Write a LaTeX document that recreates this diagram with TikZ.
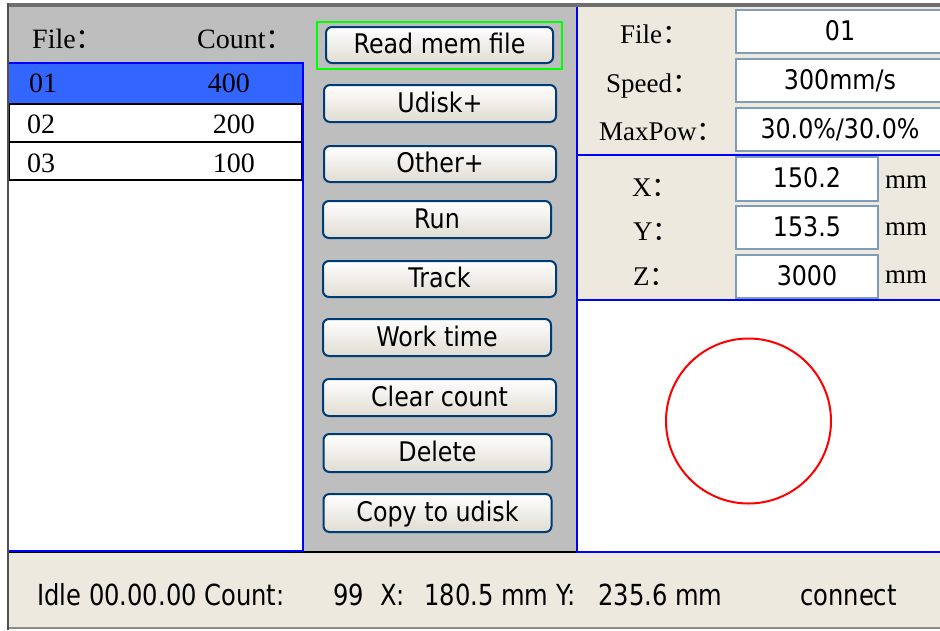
\documentclass[tikz,border=0pt]{standalone}
\usepackage{fontspec}
\setmainfont{Liberation Serif}
\newfontfamily\uifont[FakeStretch=0.88]{DejaVu Sans}
\newfontfamily\stfont[FakeStretch=0.835]{DejaVu Sans}
\newfontfamily\cjk{Noto Sans CJK SC}
\newcommand\fwc{{\cjk ：}}
\definecolor{panelgray}{HTML}{BEBEBE}
\definecolor{beige}{HTML}{EDE9DF}
\definecolor{selblue}{HTML}{3366FF}
\definecolor{btnborder}{HTML}{003C74}
\definecolor{btnbottom}{HTML}{E0DCD2}
\definecolor{boxborder}{HTML}{7F9DB9}
\definecolor{framegray}{HTML}{6E6E6E}
\definecolor{framedark}{HTML}{505050}
\definecolor{scrblue}{HTML}{0000FF}
\begin{document}
\begin{tikzpicture}[x=1pt,y=-1pt,
  btn/.style={draw=btnborder, line width=2pt, rounded corners=6pt,
    top color=white, bottom color=btnbottom, inner sep=0pt,
    text height=20pt, text depth=3pt,
    font={\uifont\fontsize{27}{30}\selectfont}},
  vbox/.style={draw=boxborder, line width=2pt, fill=white, inner sep=0pt,
    text height=20pt, text depth=3pt,
    font={\uifont\fontsize{27}{30}\selectfont}},
  serifL/.style={anchor=base west, inner sep=0pt, font={\fontsize{28}{32}\selectfont}},
  serifR/.style={anchor=base east, inner sep=0pt, font={\fontsize{28}{32}\selectfont}},
  lbl/.style={anchor=base west, inner sep=0pt, font={\fontsize{27}{31}\selectfont}},
  stat/.style={anchor=base west, inner sep=0pt, font={\stfont\fontsize{29}{32}\selectfont}},
  blueline/.style={draw=scrblue, line width=2.5pt}]
\useasboundingbox (0,0) rectangle (940,630);
\clip (0,0) rectangle (940,630);
\fill[white] (0,0) rectangle (940,630);

% gray area (left header + button panel)
\fill[panelgray] (8,7) rectangle (577,552);
% right areas
\fill[beige] (577,7) rectangle (940,300);
\fill[white] (577,300) rectangle (940,552);
% status bar
\fill[beige] (8,553) rectangle (940,628);
\draw[black, line width=2pt] (8,552) -- (577,552);
\draw[framegray!80, line width=2pt] (8,628) -- (940,628);

% left list
\fill[white] (8,63) rectangle (303,551);
\fill[selblue] (8,63) rectangle (303,104);
\draw[black, line width=2pt] (9,104) rectangle (302,142);
\draw[black, line width=2pt] (9,142) rectangle (302,180);
\draw[blueline, line width=2pt] (8,63) rectangle (303,551);

\node[serifL] (hfile) at (32,48) {File\fwc};
\node[serifL] (hcount) at (197,48) {Count\fwc};
\node[serifL] (f1) at (29,92) {01};
\node[serifR] (c1) at (250,92) {400};
\node[serifL] (f2) at (27,133) {02};
\node[serifR] (c2) at (255,133) {200};
\node[serifL] (f3) at (27,172) {03};
\node[serifR] (c3) at (255,172) {100};

% buttons
\node[draw=green, line width=2pt, minimum width=245pt, minimum height=47pt, inner sep=0pt] (hl) at (439.5,45.5) {};
\node[btn, minimum width=227pt, minimum height=36pt] (b1) at (439.5,45) {Read mem file};
\node[btn, minimum width=232pt, minimum height=37pt] (b2) at (440,103.5) {Udisk+};
\node[btn, minimum width=232pt, minimum height=36pt] (b3) at (440,164) {Other+};
\node[btn, minimum width=228pt, minimum height=37pt] (b4) at (437,219.5) {Run};
\node[btn, minimum width=233pt, minimum height=36pt] (b5) at (439.5,279) {Track};
\node[btn, minimum width=228pt, minimum height=37pt] (b6) at (437,337.5) {Work time};
\node[btn, minimum width=233pt, minimum height=37pt] (b7) at (439.5,397.5) {Clear count};
\node[btn, minimum width=228pt, minimum height=38pt] (b8) at (437.5,453) {Delete};
\node[btn, minimum width=228pt, minimum height=38pt] (b9) at (437.5,513) {Copy to udisk};

% right panel value boxes
\node[vbox, minimum width=208pt, minimum height=43pt] (v1) at (840,31.5) {01};
\node[vbox, minimum width=208pt, minimum height=43pt] (v2) at (840,80.5) {300mm/s};
\node[vbox, minimum width=208pt, minimum height=43pt] (v3) at (840,129.5) {30.0\%/30.0\%};
\node[vbox, minimum width=142pt, minimum height=44pt] (v4) at (807,179) {150.2};
\node[vbox, minimum width=142pt, minimum height=43pt] (v5) at (807,227.5) {153.5};
\node[vbox, minimum width=142pt, minimum height=43pt] (v6) at (807,276.5) {3000};

\node[lbl] (lfile) at (620,43) {File\fwc};
\node[lbl] (lspeed) at (606,92) {Speed\fwc};
\node[lbl] (lpow) at (599,140) {MaxPow\fwc};
\node[lbl] (lx) at (632,196) {X\fwc};
\node[lbl] (ly) at (633,240) {Y\fwc};
\node[lbl] (lz) at (633,285) {Z\fwc};
\node[lbl] (mx) at (885,188) {mm};
\node[lbl] (my) at (885,235) {mm};
\node[lbl] (mz) at (885,283) {mm};

% blue separators of right panel
\draw[blueline] (577,7) -- (577,553);
\draw[blueline] (577,155) -- (940,155);
\draw[blueline] (577,300) -- (940,300);
\draw[blueline] (577,552) -- (940,552);

% circle preview
\node[circle, draw=red, line width=2pt, minimum size=165pt, inner sep=0pt] (circ) at (748.5,421) {};

% outer frame
\draw[framegray, line width=4pt] (7,5) -- (940,5);
\draw[framedark, line width=2pt] (8,3) -- (8,630);

% status bar text
\node[stat] (s1) at (37,605) {Idle 00.00.00 Count:};
\node[stat] (s2) at (333,605) {99};
\node[stat] (s3) at (380,605) {X:};
\node[stat] (s4) at (424,605) {180.5 mm};
\node[stat] (s5) at (556,605) {Y:};
\node[stat] (s6) at (598,605) {235.6 mm};
\node[stat] (s7) at (800,605) {connect};
\end{tikzpicture}
\end{document}
